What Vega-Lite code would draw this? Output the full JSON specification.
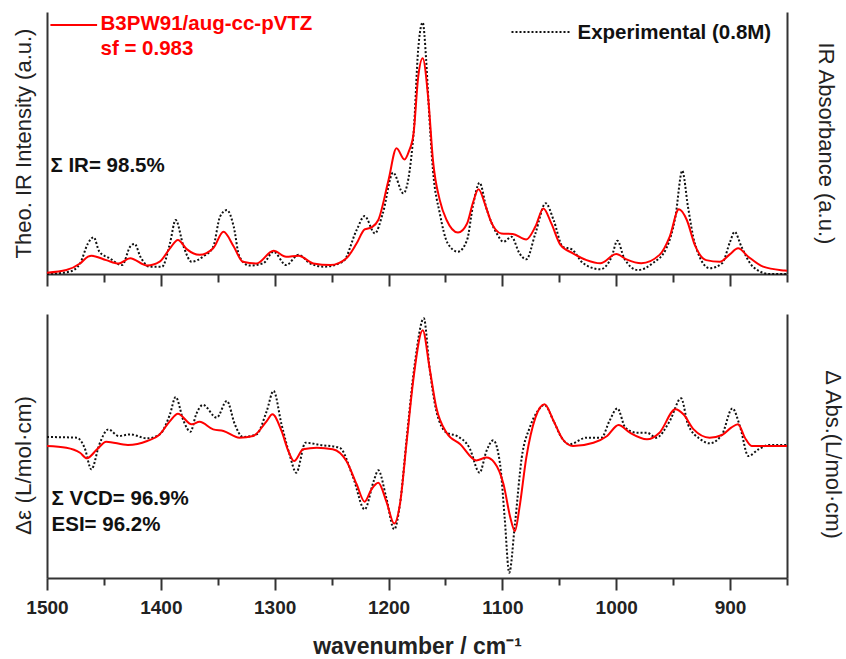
{
  "$schema": "https://vega.github.io/schema/vega-lite/v6.json",
  "padding": {"left": 12, "top": 12, "right": 4, "bottom": 0},
  "spacing": 27,
  "config": {
    "view": {"stroke": null},
    "font": "Liberation Sans",
    "axis": {"domainColor": "#333", "domainWidth": 2, "tickColor": "#333", "tickWidth": 2, "grid": false, "labelFont": "Liberation Sans", "titleFont": "Liberation Sans", "titleColor": "#222", "labelColor": "#222"},
    "text": {"font": "Liberation Sans"}
  },
  "datasets": {
    "ir_calc": [
      {"wn":1500,"y":0.005},{"wn":1483,"y":0.015},{"wn":1471,"y":0.04},{"wn":1464,"y":0.066},{"wn":1461,"y":0.07},{"wn":1448,"y":0.053},{"wn":1437,"y":0.04},{"wn":1427,"y":0.06},{"wn":1412,"y":0.032},{"wn":1401,"y":0.047},{"wn":1392,"y":0.098},{"wn":1385,"y":0.13},{"wn":1377,"y":0.094},{"wn":1366,"y":0.073},{"wn":1354,"y":0.098},{"wn":1345,"y":0.161},{"wn":1336,"y":0.105},{"wn":1328,"y":0.047},{"wn":1316,"y":0.04},{"wn":1301,"y":0.089},{"wn":1290,"y":0.066},{"wn":1279,"y":0.07},{"wn":1266,"y":0.04},{"wn":1251,"y":0.034},{"wn":1237,"y":0.06},{"wn":1228,"y":0.117},{"wn":1221,"y":0.17},{"wn":1215,"y":0.178},{"wn":1209,"y":0.206},{"wn":1200,"y":0.359},{"wn":1193,"y":0.48},{"wn":1186,"y":0.437},{"wn":1182,"y":0.47},{"wn":1178,"y":0.537},{"wn":1174,"y":0.75},{"wn":1170,"y":0.823},{"wn":1165,"y":0.664},{"wn":1161,"y":0.435},{"wn":1155,"y":0.282},{"wn":1149,"y":0.206},{"wn":1139,"y":0.158},{"wn":1131,"y":0.193},{"wn":1126,"y":0.27},{"wn":1121,"y":0.323},{"wn":1115,"y":0.263},{"wn":1110,"y":0.2},{"wn":1101,"y":0.155},{"wn":1091,"y":0.153},{"wn":1079,"y":0.132},{"wn":1071,"y":0.181},{"wn":1064,"y":0.25},{"wn":1057,"y":0.193},{"wn":1049,"y":0.111},{"wn":1038,"y":0.079},{"wn":1026,"y":0.053},{"wn":1014,"y":0.041},{"wn":1000,"y":0.076},{"wn":991,"y":0.056},{"wn":978,"y":0.041},{"wn":962,"y":0.073},{"wn":953,"y":0.143},{"wn":945,"y":0.247},{"wn":938,"y":0.206},{"wn":931,"y":0.111},{"wn":921,"y":0.053},{"wn":909,"y":0.047},{"wn":900,"y":0.076},{"wn":893,"y":0.098},{"wn":884,"y":0.066},{"wn":871,"y":0.028},{"wn":852,"y":0.013},{"wn":850,"y":0.012}
    ],
    "ir_exp": [
      {"wn":1500,"y":0.0},{"wn":1480,"y":0.009},{"wn":1471,"y":0.04},{"wn":1464,"y":0.117},{"wn":1459,"y":0.14},{"wn":1454,"y":0.085},{"wn":1445,"y":0.06},{"wn":1434,"y":0.034},{"wn":1427,"y":0.104},{"wn":1423,"y":0.115},{"wn":1418,"y":0.066},{"wn":1410,"y":0.028},{"wn":1399,"y":0.028},{"wn":1392,"y":0.117},{"wn":1387,"y":0.206},{"wn":1380,"y":0.104},{"wn":1373,"y":0.047},{"wn":1363,"y":0.066},{"wn":1354,"y":0.104},{"wn":1348,"y":0.219},{"wn":1342,"y":0.244},{"wn":1336,"y":0.181},{"wn":1331,"y":0.066},{"wn":1322,"y":0.032},{"wn":1310,"y":0.041},{"wn":1301,"y":0.085},{"wn":1290,"y":0.034},{"wn":1279,"y":0.073},{"wn":1269,"y":0.041},{"wn":1257,"y":0.028},{"wn":1240,"y":0.047},{"wn":1228,"y":0.168},{"wn":1221,"y":0.221},{"wn":1212,"y":0.155},{"wn":1205,"y":0.232},{"wn":1196,"y":0.387},{"wn":1187,"y":0.308},{"wn":1178,"y":0.537},{"wn":1174,"y":0.855},{"wn":1170,"y":0.96},{"wn":1167,"y":0.82},{"wn":1165,"y":0.664},{"wn":1161,"y":0.397},{"wn":1155,"y":0.232},{"wn":1148,"y":0.117},{"wn":1139,"y":0.085},{"wn":1131,"y":0.13},{"wn":1126,"y":0.257},{"wn":1120,"y":0.348},{"wn":1114,"y":0.25},{"wn":1105,"y":0.155},{"wn":1099,"y":0.123},{"wn":1092,"y":0.142},{"wn":1085,"y":0.079},{"wn":1079,"y":0.056},{"wn":1071,"y":0.155},{"wn":1062,"y":0.27},{"wn":1055,"y":0.206},{"wn":1047,"y":0.104},{"wn":1039,"y":0.094},{"wn":1029,"y":0.041},{"wn":1014,"y":0.018},{"wn":1004,"y":0.066},{"wn":999,"y":0.127},{"wn":993,"y":0.06},{"wn":981,"y":0.015},{"wn":968,"y":0.041},{"wn":956,"y":0.098},{"wn":948,"y":0.219},{"wn":942,"y":0.394},{"wn":937,"y":0.257},{"wn":931,"y":0.117},{"wn":918,"y":0.022},{"wn":907,"y":0.041},{"wn":900,"y":0.123},{"wn":896,"y":0.161},{"wn":890,"y":0.104},{"wn":880,"y":0.028},{"wn":865,"y":0.0},{"wn":850,"y":0.0}
    ],
    "vcd_calc": [
      {"wn":1500,"y":0},{"wn":1483,"y":-0.013},{"wn":1471,"y":-0.051},{"wn":1465,"y":-0.093},{"wn":1456,"y":-0.025},{"wn":1448,"y":0.033},{"wn":1429,"y":0.008},{"wn":1412,"y":0.038},{"wn":1401,"y":0.088},{"wn":1392,"y":0.189},{"wn":1385,"y":0.245},{"wn":1373,"y":0.164},{"wn":1366,"y":0.184},{"wn":1354,"y":0.126},{"wn":1345,"y":0.114},{"wn":1331,"y":0.063},{"wn":1319,"y":0.076},{"wn":1307,"y":0.189},{"wn":1302,"y":0.24},{"wn":1294,"y":0.114},{"wn":1288,"y":-0.038},{"wn":1283,"y":-0.114},{"wn":1275,"y":-0.025},{"wn":1263,"y":-0.013},{"wn":1249,"y":-0.025},{"wn":1237,"y":-0.114},{"wn":1228,"y":-0.29},{"wn":1221,"y":-0.422},{"wn":1215,"y":-0.328},{"wn":1209,"y":-0.278},{"wn":1202,"y":-0.417},{"wn":1195,"y":-0.588},{"wn":1190,"y":-0.442},{"wn":1184,"y":0.038},{"wn":1178,"y":0.518},{"wn":1170,"y":0.876},{"wn":1164,"y":0.593},{"wn":1158,"y":0.29},{"wn":1149,"y":0.101},{"wn":1137,"y":0.013},{"wn":1123,"y":-0.109},{"wn":1114,"y":-0.088},{"wn":1107,"y":-0.126},{"wn":1099,"y":-0.29},{"wn":1093,"y":-0.543},{"wn":1089,"y":-0.644},{"wn":1085,"y":-0.467},{"wn":1079,"y":-0.088},{"wn":1071,"y":0.215},{"wn":1063,"y":0.316},{"wn":1055,"y":0.189},{"wn":1047,"y":0.051},{"wn":1038,"y":0},{"wn":1020,"y":0.025},{"wn":1008,"y":0.076},{"wn":998,"y":0.159},{"wn":988,"y":0.101},{"wn":973,"y":0.051},{"wn":962,"y":0.101},{"wn":948,"y":0.278},{"wn":941,"y":0.24},{"wn":932,"y":0.126},{"wn":918,"y":0.063},{"wn":907,"y":0.083},{"wn":899,"y":0.139},{"wn":893,"y":0.164},{"wn":887,"y":0.063},{"wn":881,"y":0},{"wn":866,"y":0},{"wn":850,"y":0}
    ],
    "vcd_exp": [
      {"wn":1500,"y":0.068},{"wn":1474,"y":0.063},{"wn":1467,"y":-0.013},{"wn":1461,"y":-0.177},{"wn":1454,"y":0.013},{"wn":1446,"y":0.126},{"wn":1437,"y":0.076},{"wn":1427,"y":0.088},{"wn":1412,"y":0.058},{"wn":1401,"y":0.088},{"wn":1392,"y":0.24},{"wn":1387,"y":0.371},{"wn":1380,"y":0.189},{"wn":1374,"y":0.108},{"wn":1369,"y":0.24},{"wn":1363,"y":0.311},{"wn":1351,"y":0.215},{"wn":1342,"y":0.341},{"wn":1335,"y":0.164},{"wn":1328,"y":0.068},{"wn":1316,"y":0.088},{"wn":1307,"y":0.265},{"wn":1301,"y":0.417},{"wn":1294,"y":0.164},{"wn":1287,"y":-0.063},{"wn":1281,"y":-0.202},{"wn":1273,"y":0.025},{"wn":1260,"y":0.008},{"wn":1243,"y":-0.013},{"wn":1231,"y":-0.24},{"wn":1221,"y":-0.48},{"wn":1213,"y":-0.265},{"wn":1209,"y":-0.184},{"wn":1202,"y":-0.391},{"wn":1195,"y":-0.631},{"wn":1190,"y":-0.442},{"wn":1184,"y":0.063},{"wn":1177,"y":0.619},{"wn":1169,"y":0.967},{"wn":1164,"y":0.593},{"wn":1158,"y":0.265},{"wn":1149,"y":0.101},{"wn":1140,"y":0.076},{"wn":1129,"y":-0.013},{"wn":1120,"y":-0.202},{"wn":1114,"y":-0.038},{"wn":1108,"y":0.043},{"wn":1102,"y":-0.139},{"wn":1098,"y":-0.543},{"wn":1094,"y":-0.96},{"wn":1089,"y":-0.593},{"wn":1083,"y":-0.088},{"wn":1076,"y":0.139},{"wn":1069,"y":0.265},{"wn":1063,"y":0.311},{"wn":1055,"y":0.189},{"wn":1048,"y":0.063},{"wn":1041,"y":0.013},{"wn":1026,"y":0.063},{"wn":1013,"y":0.063},{"wn":1006,"y":0.189},{"wn":999,"y":0.285},{"wn":992,"y":0.139},{"wn":982,"y":0.101},{"wn":973,"y":0.101},{"wn":965,"y":0.063},{"wn":953,"y":0.189},{"wn":943,"y":0.361},{"wn":937,"y":0.164},{"wn":926,"y":0.051},{"wn":918,"y":0.02},{"wn":907,"y":0.088},{"wn":898,"y":0.285},{"wn":891,"y":0.139},{"wn":884,"y":-0.076},{"wn":875,"y":-0.025},{"wn":865,"y":0.008},{"wn":850,"y":0.008}
    ],
    "one": [{"k": 1}]
  },
  "vconcat": [
    {
      "width": 740,
      "height": 262,
      "resolve": {"axis": {"x": "independent", "y": "independent"}},
      "layer": [
        {
          "data": {"name": "ir_exp"},
          "mark": {"type": "line", "color": "#111", "strokeWidth": 2, "strokeDash": [2, 2], "interpolate": "monotone"},
          "encoding": {
            "x": {"field": "wn", "type": "quantitative", "scale": {"domain": [850, 1500], "reverse": true, "nice": false, "zero": false},
                  "axis": {"orient": "bottom", "values": [1500,1400,1300,1200,1100,1000,900], "labels": false, "title": null, "tickSize": 12}},
            "y": {"field": "y", "type": "quantitative", "scale": {"domain": [0, 1], "nice": false, "zero": false},
                  "axis": {"orient": "right", "ticks": false, "labels": false, "title": "IR Absorbance (a.u.)", "titleFontSize": 22, "titleFontWeight": "normal", "titlePadding": 26}}
          }
        },
        {
          "data": {"name": "ir_calc"},
          "mark": {"type": "line", "color": "#ff0000", "strokeWidth": 2, "interpolate": "monotone"},
          "encoding": {
            "x": {"field": "wn", "type": "quantitative",
                  "axis": {"orient": "bottom", "values": [1450,1350,1250,1150,1050,950,850], "labels": false, "title": null, "domain": false, "tickSize": 8}},
            "y": {"field": "y", "type": "quantitative",
                  "axis": {"orient": "left", "ticks": false, "labels": false, "title": "Theo. IR Intensity (a.u.)", "titleFontSize": 22, "titleFontWeight": "normal", "titlePadding": 12}}
          }
        },
        {
          "data": {"name": "one"},
          "mark": {"type": "rule", "color": "#ff0000", "strokeWidth": 2},
          "encoding": {
            "x": {"datum": 1497, "type": "quantitative", "axis": null},
            "x2": {"datum": 1456},
            "y": {"datum": 0.95, "type": "quantitative", "axis": null}
          }
        },
        {
          "data": {"name": "one"},
          "mark": {"type": "rule", "color": "#111", "strokeWidth": 2, "strokeDash": [2, 2]},
          "encoding": {
            "x": {"datum": 1092, "type": "quantitative", "axis": null},
            "x2": {"datum": 1041},
            "y": {"datum": 0.924, "type": "quantitative", "axis": null}
          }
        },
        {
          "data": {"name": "one"},
          "mark": {"type": "text", "text": "B3PW91/aug-cc-pVTZ", "color": "#ff0000", "fontSize": 20.5, "fontWeight": "bold", "align": "left", "baseline": "middle"},
          "encoding": {
            "x": {"datum": 1453, "type": "quantitative", "axis": null},
            "y": {"datum": 0.953, "type": "quantitative", "axis": null}
          }
        },
        {
          "data": {"name": "one"},
          "mark": {"type": "text", "text": "sf = 0.983", "color": "#ff0000", "fontSize": 20.5, "fontWeight": "bold", "align": "left", "baseline": "middle"},
          "encoding": {
            "x": {"datum": 1453, "type": "quantitative", "axis": null},
            "y": {"datum": 0.86, "type": "quantitative", "axis": null}
          }
        },
        {
          "data": {"name": "one"},
          "mark": {"type": "text", "text": "Experimental (0.8M)", "color": "#111", "fontSize": 20.5, "fontWeight": "bold", "align": "left", "baseline": "middle"},
          "encoding": {
            "x": {"datum": 1034, "type": "quantitative", "axis": null},
            "y": {"datum": 0.92, "type": "quantitative", "axis": null}
          }
        },
        {
          "data": {"name": "one"},
          "mark": {"type": "text", "text": "Σ IR= 98.5%", "color": "#111", "fontSize": 20.5, "fontWeight": "bold", "align": "left", "baseline": "middle"},
          "encoding": {
            "x": {"datum": 1497, "type": "quantitative", "axis": null},
            "y": {"datum": 0.412, "type": "quantitative", "axis": null}
          }
        }
      ]
    },
    {
      "width": 740,
      "height": 264,
      "resolve": {"axis": {"x": "independent", "y": "independent"}},
      "layer": [
        {
          "data": {"name": "vcd_exp"},
          "mark": {"type": "line", "color": "#111", "strokeWidth": 2, "strokeDash": [2, 2], "interpolate": "monotone"},
          "encoding": {
            "x": {"field": "wn", "type": "quantitative", "scale": {"domain": [850, 1500], "reverse": true, "nice": false, "zero": false},
                  "axis": {"orient": "bottom", "values": [1500,1400,1300,1200,1100,1000,900], "format": "d",
                           "labelOverlap": false, "labelFlush": false, "tickSize": 12,
                           "labelFontSize": 19, "labelFontWeight": "bold", "labelPadding": 8,
                           "title": "wavenumber / cm⁻¹", "titleFontSize": 23, "titleFontWeight": "bold", "titlePadding": 18}},
            "y": {"field": "y", "type": "quantitative", "scale": {"domain": [-1, 1], "nice": false, "zero": false},
                  "axis": {"orient": "right", "ticks": false, "labels": false, "title": "Δ Abs.(L/mol·cm)", "titleFontSize": 22, "titleFontWeight": "normal", "titlePadding": 33, "titleY": 140}}
          }
        },
        {
          "data": {"name": "vcd_calc"},
          "mark": {"type": "line", "color": "#ff0000", "strokeWidth": 2, "interpolate": "monotone"},
          "encoding": {
            "x": {"field": "wn", "type": "quantitative",
                  "axis": {"orient": "bottom", "values": [1450,1350,1250,1150,1050,950,850], "labels": false, "title": null, "domain": false, "tickSize": 7}},
            "y": {"field": "y", "type": "quantitative",
                  "axis": {"orient": "left", "ticks": false, "labels": false, "title": "Δε (L/mol·cm)", "titleFontSize": 22.5, "titleFontWeight": "normal", "titlePadding": 12, "titleY": 151}}
          }
        },
        {
          "data": {"name": "one"},
          "mark": {"type": "text", "text": "Σ VCD= 96.9%", "color": "#111", "fontSize": 20.5, "fontWeight": "bold", "align": "left", "baseline": "middle"},
          "encoding": {
            "x": {"datum": 1496, "type": "quantitative", "axis": null},
            "y": {"datum": -0.4, "type": "quantitative", "axis": null}
          }
        },
        {
          "data": {"name": "one"},
          "mark": {"type": "text", "text": "ESI= 96.2%", "color": "#111", "fontSize": 20.5, "fontWeight": "bold", "align": "left", "baseline": "middle"},
          "encoding": {
            "x": {"datum": 1496, "type": "quantitative", "axis": null},
            "y": {"datum": -0.6, "type": "quantitative", "axis": null}
          }
        }
      ]
    }
  ]
}
